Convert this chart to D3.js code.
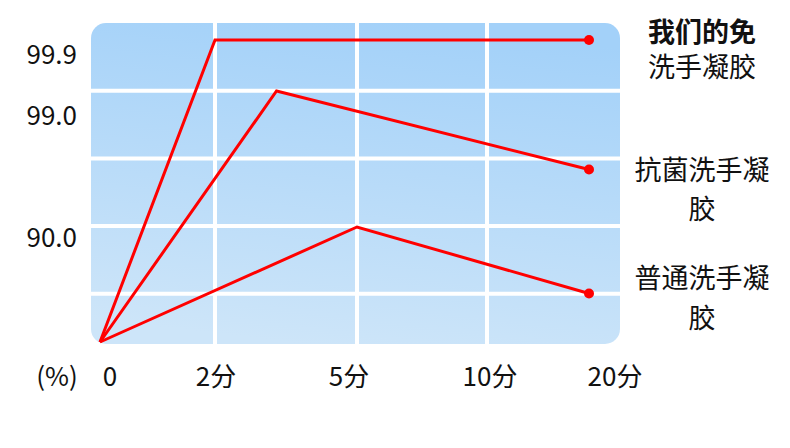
<!DOCTYPE html>
<html>
<head>
<meta charset="utf-8">
<script src="https://cdn.jsdelivr.net/npm/d3@7"></script>
<style>
  body { margin: 0; background: #fff; }
  text { font-family: "Noto Sans CJK SC", "Noto Sans", sans-serif; fill: #111; }
</style>
</head>
<body>
<div id="chart"></div>
<script>
// chart values
const timeTicks = [0, 2, 5, 10, 20];
const timeLabels = ["0", "2分", "5分", "10分", "20分"];
const yTicks = [99.9, 99.0, 90.0];
const yLabels = ["99.9", "99.0", "90.0"];

const seriesNames = [["我们的免", "洗手凝胶"], ["抗菌洗手凝", "胶"], ["普通洗手凝", "胶"]];
const ourGel = [[0, 0], [2, 99.9], [20, 99.9]];
const antibacGel = [[0, 0], [3.3, 99.0], [20, 93.8]];
const plainGel = [[0, 0], [5, 90.0], [20, 38]];
const series = [ourGel, antibacGel, plainGel];

// size
const width = 790;
const height = 448;
const box = { left: 91, top: 23, right: 620, bottom: 344 };

const svg = d3.select("#chart")
    .append("svg")
        .attr("width", width)
        .attr("height", height)

// x is stretched unevenly, like the original
const x = d3.scaleLinear()
    .domain(timeTicks)
    .range([100, 215, 357, 487, 589])

// y is a broken percent scale
const y = d3.scaleLinear()
    .domain([0, 90, 99, 99.9])
    .range([342, 227, 91, 40])

// background gradient
const defs = svg.append("defs")
const grad = defs.append("linearGradient")
    .attr("id", "bg")
    .attr("x1", "0.4").attr("y1", "1")
    .attr("x2", "0.6").attr("y2", "0")
grad.append("stop").attr("offset", "0%").attr("stop-color", "#cde5f9")
grad.append("stop").attr("offset", "100%").attr("stop-color", "#a3d1f9")

svg.append("rect")
    .attr("x", box.left)
    .attr("y", box.top)
    .attr("width", box.right - box.left)
    .attr("height", box.bottom - box.top)
    .attr("rx", 15)
    .attr("fill", "url(#bg)")

// white grid
const rowStep = 67.7
const rows = d3.range(1, 5).map(i => box.top + i * rowStep)
svg.append("g")
    .selectAll("line")
    .data(rows)
    .join("line")
        .attr("x1", box.left).attr("x2", box.right)
        .attr("y1", d => d).attr("y2", d => d)
        .attr("stroke", "#fff")
        .attr("stroke-width", 4)

svg.append("g")
    .selectAll("line")
    .data(timeTicks.slice(1, 4))
    .join("line")
        .attr("x1", d => x(d)).attr("x2", d => x(d))
        .attr("y1", box.top).attr("y2", box.bottom)
        .attr("stroke", "#fff")
        .attr("stroke-width", 4)

// lines
const line = d3.line()
    .x(d => x(d[0]))
    .y(d => y(d[1]))

svg.append("g")
    .selectAll("path")
    .data(series)
    .join("path")
        .attr("d", line)
        .attr("fill", "none")
        .attr("stroke", "#ff0000")
        .attr("stroke-width", 3)
        .attr("stroke-linejoin", "miter")

svg.append("g")
    .selectAll("circle")
    .data(series.map(s => s[s.length - 1]))
    .join("circle")
        .attr("cx", d => x(d[0]))
        .attr("cy", d => y(d[1]))
        .attr("r", 5)
        .attr("fill", "#ff0000")

// y labels
const yNudge = [12, 22, 8]
svg.append("g")
    .selectAll("text")
    .data(yTicks)
    .join("text")
        .attr("x", 77)
        .attr("y", (d, i) => y(d) + yNudge[i])
        .attr("text-anchor", "end")
        .attr("dominant-baseline", "central")
        .style("font-size", "26px")
        .text((d, i) => yLabels[i])

// x labels
const xNudge = [10, 1, -8, 3, 26]
svg.append("g")
    .selectAll("text")
    .data(timeTicks)
    .join("text")
        .attr("x", (d, i) => x(d) + xNudge[i])
        .attr("y", 374)
        .attr("text-anchor", "middle")
        .attr("dominant-baseline", "central")
        .style("font-size", "26px")
        .text((d, i) => timeLabels[i])

svg.append("text")
    .attr("x", 57)
    .attr("y", 374)
    .attr("text-anchor", "middle")
    .attr("dominant-baseline", "central")
    .style("font-size", "26px")
    .text("(%)")

// series names at the right
const nameY = [[30, 65], [168, 207], [276, 316]]
const names = svg.append("g")
    .selectAll("text")
    .data(seriesNames)
    .join("text")
        .attr("text-anchor", "middle")
        .style("font-size", "27px")

names.selectAll("tspan")
    .data((d, i) => d.map((t, j) => ({ t, y: nameY[i][j], bold: i === 0 && j === 0 })))
    .join("tspan")
        .attr("x", 702)
        .attr("y", d => d.y)
        .attr("dominant-baseline", "central")
        .style("font-weight", d => d.bold ? "bold" : null)
        .text(d => d.t)
</script>
</body>
</html>
